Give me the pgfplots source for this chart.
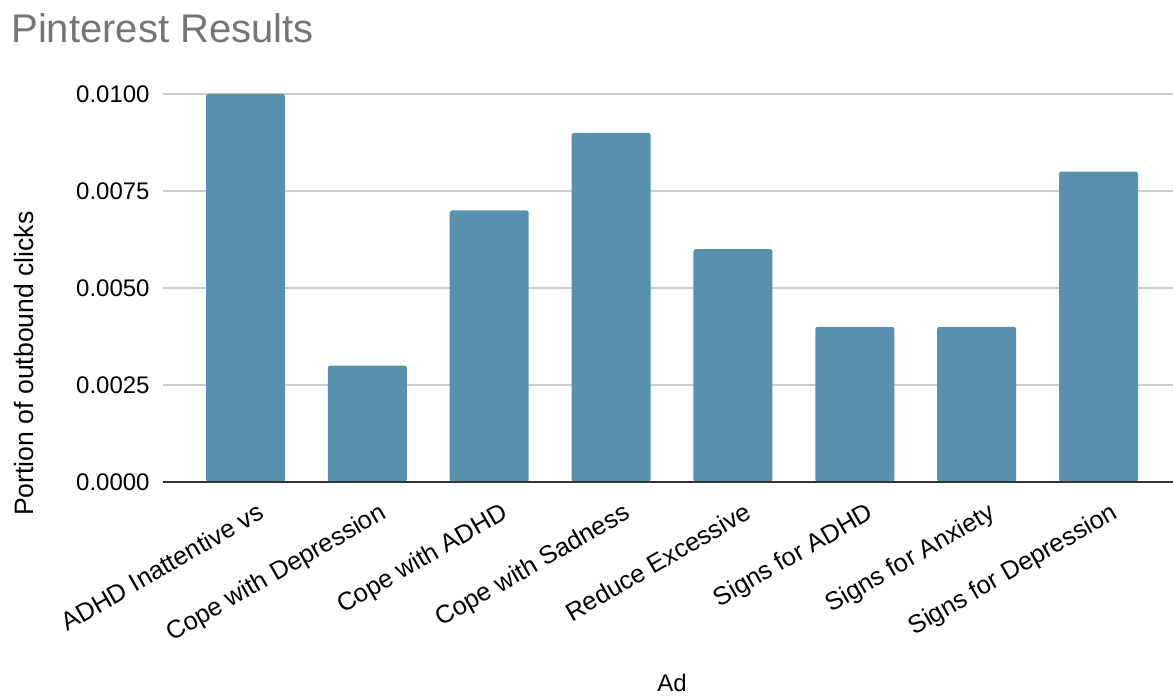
\documentclass[border=0pt]{standalone}
\usepackage{pgfplots}
\pgfplotsset{compat=1.18}
\usepackage{fontspec}
\setmainfont{Liberation Sans}
\definecolor{barblue}{RGB}{88,145,173}
\definecolor{gridgray}{RGB}{204,204,204}
\definecolor{axisdark}{RGB}{51,51,51}
\definecolor{titlegray}{RGB}{117,117,117}
\begin{document}
\begin{tikzpicture}
\useasboundingbox (0,0) rectangle (586.5pt,348pt);
\node[anchor=base west, text=titlegray, font=\fontsize{20}{24}\selectfont, inner sep=0pt] at (5.5pt,326.5pt) {Pinterest Results};
\begin{axis}[
  at={(81.5pt,107pt)}, anchor=south west,
  scale only axis, width=505pt, height=194pt,
  xmin=-0.677, xmax=7.611, ymin=0, ymax=0.01,
  clip=false,
  ybar, bar width=39.5pt,
  axis line style={draw=none},
  major tick length=0pt,
  xtick={0,1,2,3,4,5,6,7},
  xticklabels={ADHD Inattentive vs, Cope with Depression, Cope with ADHD, Cope with Sadness, Reduce Excessive, Signs for ADHD, Signs for Anxiety, Signs for Depression},
  xticklabel style={rotate=30, anchor=north east, inner sep=0pt, xshift=0pt, yshift=-11pt, font=\fontsize{12.7}{15}\selectfont},
  ytick={0,0.0025,0.005,0.0075,0.01},
  yticklabels={0.0000,0.0025,0.0050,0.0075,0.0100},
  scaled y ticks=false,
  yticklabel style={anchor=east, inner sep=0pt, xshift=-6.5pt, font=\fontsize{12}{14}\selectfont},
  ymajorgrids, grid style={gridgray, line width=0.75pt},
  xlabel={Ad},
  xlabel style={at={(axis description cs:0.504,-0.541)}, anchor=base, inner sep=0pt, font=\fontsize{12}{14}\selectfont},
  ylabel={Portion of outbound clicks},
  ylabel style={at={(axis description cs:-0.1376,0.305)}, anchor=center, inner sep=0pt, font=\fontsize{13.3}{16}\selectfont},
]
\addplot[fill=barblue, draw=none, rounded corners=1.2pt] coordinates {
  (0,0.0100) (1,0.0030) (2,0.0070) (3,0.0090)
  (4,0.0060) (5,0.0040) (6,0.0040) (7,0.0080)
};
\draw[axisdark, line width=1pt] (rel axis cs:0,0) -- (rel axis cs:1,0);
\end{axis}
\end{tikzpicture}
\end{document}
